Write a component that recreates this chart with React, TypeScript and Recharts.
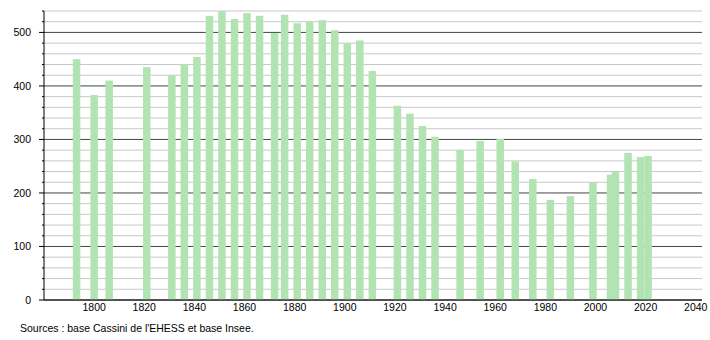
import React from "react";
import { BarChart, Bar, XAxis, YAxis, CartesianGrid } from "recharts";

const years = [1793, 1800, 1806, 1821, 1831, 1836, 1841, 1846, 1851, 1856, 1861, 1866, 1872, 1876, 1881, 1886, 1891, 1896, 1901, 1906, 1911, 1921, 1926, 1931, 1936, 1946, 1954, 1962, 1968, 1975, 1982, 1990, 1999, 2006, 2008, 2013, 2018, 2021];
const population = [450, 383, 410, 435, 420, 441, 454, 531, 540, 525, 536, 531, 499, 533, 517, 520, 523, 504, 480, 485, 428, 363, 348, 325, 305, 280, 297, 301, 259, 226, 187, 194, 220, 234, 239, 275, 267, 269];
const xTicks = [1800, 1820, 1840, 1860, 1880, 1900, 1920, 1940, 1960, 1980, 2000, 2020, 2040];
const yTicks = [0, 20, 40, 60, 80, 100, 120, 140, 160, 180, 200, 220, 240, 260, 280, 300, 320, 340, 360, 380, 400, 420, 440, 460, 480, 500, 520, 540];
const sourceText = "Sources : base Cassini de l'EHESS et base Insee.";

const data = years.map((y, i) => ({ year: y, pop: population[i] }));

const FONT = "'Liberation Sans', Arial, sans-serif";
const BAR_W = 7.5;
const BAR_COLOR = "#b2e3b2";

const YTick = (props: any) => {
  const { x, y, payload } = props;
  const v = payload.value;
  const major = v % 100 === 0;
  return (
    <g>
      <line x1={x - (major ? 5 : 2)} x2={x} y1={y} y2={y} stroke="#000" strokeWidth={1} />
      {major && (
        <text x={x - 13} y={y} dy={4} textAnchor="end" fontSize={10.5} fontFamily={FONT} fill="#000">
          {v}
        </text>
      )}
    </g>
  );
};

const GridLine = (props: any) => {
  const { x1, x2, y1, y2, index } = props;
  const major = index % 5 === 0;
  return (
    <line
      key={props.key}
      x1={x1}
      x2={x2}
      y1={y1}
      y2={y2}
      stroke={major ? "#444" : "#c8c8c8"}
      strokeWidth={1}
    />
  );
};

const BarShape = (props: any) => {
  const { x, y, width, height } = props;
  if (height == null || height <= 0) return null;
  const cx = x + width / 2;
  return <rect x={cx - BAR_W / 2} y={y} width={BAR_W} height={height} fill={BAR_COLOR} />;
};

export default function App() {
  return (
    <div style={{ position: "absolute", left: 0, top: 0, width: 710, height: 340, background: "#fff" }}>
      <BarChart
        width={710}
        height={340}
        data={data}
        margin={{ top: 11, right: 8, bottom: 20, left: 0 }}
      >
        <CartesianGrid vertical={false} horizontal={GridLine as any} />
        <XAxis
          dataKey="year"
          type="number"
          domain={[1780, 2042.5]}
          ticks={xTicks}
          tickLine={false}
          tickSize={0}
          tickMargin={4}
          height={20}
          axisLine={{ stroke: "#000" }}
          tick={{ fontSize: 10.5, fontFamily: FONT, fill: "#000" }}
          allowDataOverflow
        />
        <YAxis
          type="number"
          domain={[0, 540]}
          ticks={yTicks}
          interval={0}
          width={44}
          tickSize={0}
          tickMargin={0}
          tickLine={false}
          axisLine={{ stroke: "#000" }}
          tick={<YTick />}
          allowDataOverflow
        />
        <Bar dataKey="pop" fill={BAR_COLOR} shape={<BarShape />} isAnimationActive={false} />
      </BarChart>
      <div
        style={{
          position: "absolute",
          left: 20,
          top: 322,
          fontSize: 10.5,
          fontFamily: FONT,
          color: "#000",
          whiteSpace: "nowrap",
          lineHeight: "13px",
        }}
      >
        {sourceText}
      </div>
    </div>
  );
}
